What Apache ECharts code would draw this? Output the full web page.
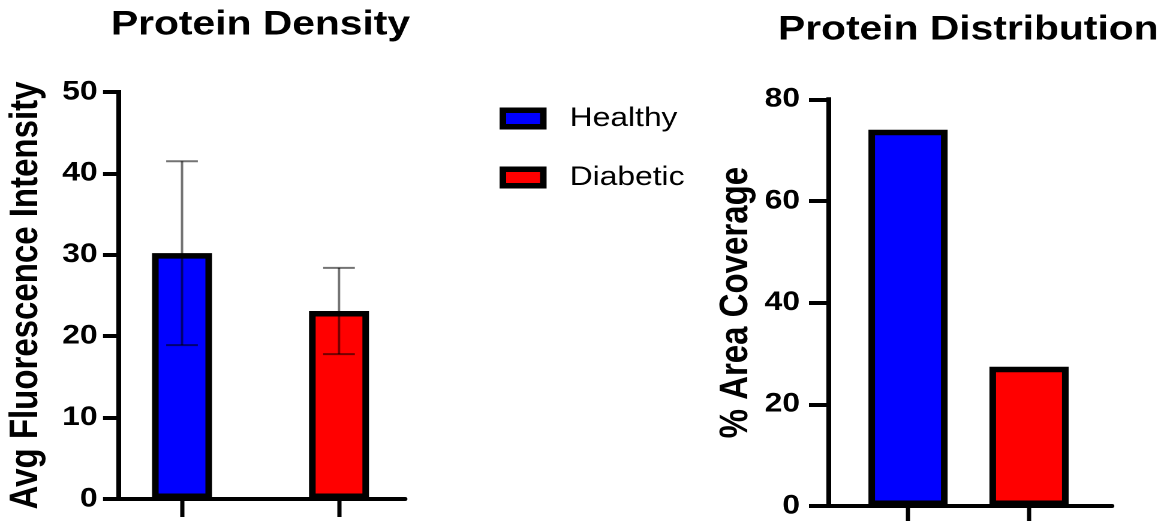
<!DOCTYPE html>
<html>
<head>
<meta charset="utf-8">
<script src="https://cdn.jsdelivr.net/npm/echarts@6/dist/echarts.min.js"></script>
<style>
  html, body { margin: 0; padding: 0; background: #fff; overflow: hidden; }
  /* the figure is laid out on a 978px canvas and widened to fill the 1173px window */
  #chart { width: 978px; height: 521px; transform: scaleX(1.19939); transform-origin: 0 0; }
</style>
</head>
<body>
<div id="chart"></div>
<script>
// ---- data ----
const categories = ['Healthy', 'Diabetic'];
const colors = ['#0000ff', '#ff0000'];
const densityMean = [30.2, 23.1];     // Avg fluorescence intensity
const densitySD = [11.3, 5.3];        // error bar half-length
const coverage = [74.0, 27.4];        // % area coverage
const densityTicks = [0, 10, 20, 30, 40, 50];
const coverageTicks = [0, 20, 40, 60, 80];

const FONT = "'Liberation Sans', Arial, sans-serif";
const INK = '#000';

function axisRange(ticks) {
  return { min: ticks[0], max: ticks[ticks.length - 1], interval: ticks[1] - ticks[0] };
}

// one value series per group, stacked so each group keeps the centre of its category
function groupSeries(values, stack, axisIdx, barWidth) {
  return categories.map((name, i) => ({
    name: name,
    type: 'bar',
    stack: stack,
    xAxisIndex: axisIdx,
    yAxisIndex: axisIdx,
    barWidth: barWidth,
    data: values.map((v, j) => (j === i ? v : '-')),
    itemStyle: { color: colors[i], borderColor: INK, borderWidth: 5.5 },
    emphasis: { disabled: true },
    z: 2
  }));
}

function visibleYAxis(gridIndex, ticks, tickLen, margin, name) {
  return Object.assign({
    type: 'value',
    gridIndex: gridIndex,
    name: name,
    nameLocation: 'middle',
    nameGap: 60,
    nameTextStyle: { fontFamily: FONT, fontWeight: 'bold', fontSize: 33, lineHeight: 33, color: INK },
    axisLine: { show: true, lineStyle: { color: INK, width: 4, cap: 'square' } },
    axisTick: { show: true, length: tickLen, lineStyle: { color: INK, width: 4 } },
    axisLabel: { margin: margin, fontFamily: FONT, fontWeight: 'bold', fontSize: 26.5, color: INK },
    splitLine: { show: false }
  }, axisRange(ticks));
}

function hiddenYAxis(gridIndex, ticks) {
  return Object.assign({
    type: 'value', gridIndex: gridIndex,
    axisLine: { show: false }, axisTick: { show: false },
    axisLabel: { show: false }, splitLine: { show: false }
  }, axisRange(ticks));
}

function baseLineXAxis(gridIndex) {
  return {
    type: 'value', gridIndex: gridIndex, min: 0, max: 1,
    axisLine: { show: true, onZero: true, lineStyle: { color: INK, width: 4 } },
    axisTick: { show: false }, axisLabel: { show: false }, splitLine: { show: false }
  };
}

function categoryXAxis(gridIndex) {
  return {
    type: 'category', gridIndex: gridIndex, data: categories,
    axisLine: { show: false },
    axisTick: { show: true, alignWithLabel: true, length: 18, lineStyle: { color: INK, width: 3.5 } },
    axisLabel: { show: false },
    splitLine: { show: false }
  };
}

const chart = echarts.init(document.getElementById('chart'), null, { renderer: 'canvas', devicePixelRatio: 2 });

chart.setOption({
  animation: false,
  backgroundColor: '#fff',
  graphic: [
    { type: 'text', x: 217.2, y: 25, z: 10,
      style: { text: 'Protein Density', fill: INK, font: 'bold 34px ' + FONT,
               align: 'center', verticalAlign: 'middle', textAlign: 'center', textVerticalAlign: 'middle' } },
    { type: 'text', x: 807.3, y: 30, z: 10,
      style: { text: 'Protein Distribution', fill: INK, font: 'bold 34px ' + FONT,
               align: 'center', verticalAlign: 'middle', textAlign: 'center', textVerticalAlign: 'middle' } }
  ],
  legend: {
    data: categories,
    orient: 'vertical',
    left: 416.5, top: 105,
    padding: 0,
    itemGap: 32,
    itemWidth: 33.7, itemHeight: 16.5,
    icon: 'rect',
    selectedMode: false,
    itemStyle: { borderColor: INK, borderWidth: 5.5 },
    textStyle: { fontFamily: FONT, fontSize: 26.5, lineHeight: 26, color: INK, padding: [0, 0, 0, 17] }
  },
  grid: [
    { left: 98.4, width: 239.3, top: 92, bottom: 22 },   // density: axes
    { left: 86.3, width: 261.8, top: 92, bottom: 22 },   // density: bars
    { left: 690.3, width: 236.8, top: 99.3, bottom: 15 }, // coverage: axes
    { left: 706.6, width: 201.8, top: 99.3, bottom: 15 }  // coverage: bars
  ],
  xAxis: [baseLineXAxis(0), categoryXAxis(1), baseLineXAxis(2), categoryXAxis(3)],
  yAxis: [
    visibleYAxis(0, densityTicks, 12.5, 17, 'Avg Fluorescence Intensity'),
    hiddenYAxis(1, densityTicks),
    visibleYAxis(2, coverageTicks, 15.8, 23.3, '% Area Coverage'),
    hiddenYAxis(3, coverageTicks)
  ],
  series: [
    ...groupSeries(densityMean, 'density', 1, 50),
    ...groupSeries(coverage, 'coverage', 3, 66),
    {
      type: 'custom',
      name: 'sd',
      xAxisIndex: 1, yAxisIndex: 1,
      z: 3,
      silent: true,
      data: categories.map((c, i) => [i, densityMean[i], densitySD[i]]),
      renderItem: function (params, api) {
        const x = api.value(0), m = api.value(1), e = api.value(2);
        const hi = api.coord([x, m + e]);
        const lo = api.coord([x, m - e]);
        const cap = 13.2;
        const style = { stroke: 'rgba(0,0,0,0.55)', lineWidth: 2, fill: null };
        return {
          type: 'group',
          children: [
            { type: 'line', shape: { x1: hi[0], y1: hi[1], x2: lo[0], y2: lo[1] }, style: style },
            { type: 'line', shape: { x1: hi[0] - cap, y1: hi[1], x2: hi[0] + cap, y2: hi[1] }, style: style },
            { type: 'line', shape: { x1: lo[0] - cap, y1: lo[1], x2: lo[0] + cap, y2: lo[1] }, style: style }
          ]
        };
      }
    }
  ]
});
</script>
</body>
</html>
